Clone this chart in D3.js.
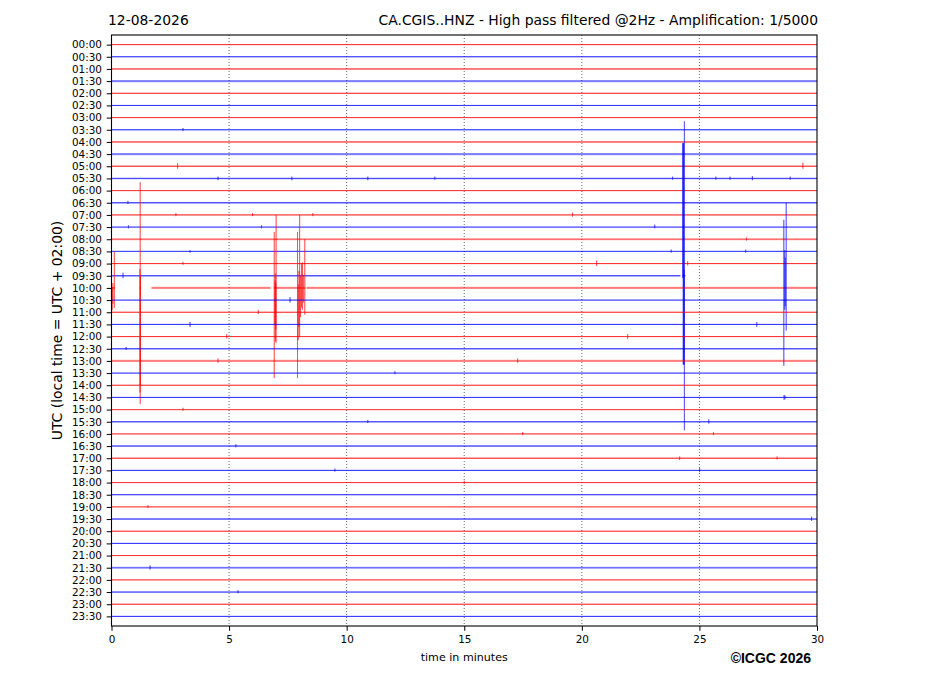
<!DOCTYPE html>
<html><head><meta charset="utf-8">
<script src="https://cdn.jsdelivr.net/npm/d3@7"></script>
<style>body{margin:0;background:#fff} svg{display:block}</style>
</head><body>
<svg id="chart" width="927" height="696"></svg>
<script>
// ---- data ----
const rowLabels = ["00:00","00:30","01:00","01:30","02:00","02:30","03:00","03:30","04:00","04:30",
  "05:00","05:30","06:00","06:30","07:00","07:30","08:00","08:30","09:00","09:30",
  "10:00","10:30","11:00","11:30","12:00","12:30","13:00","13:30","14:00","14:30",
  "15:00","15:30","16:00","16:30","17:00","17:30","18:00","18:30","19:00","19:30",
  "20:00","20:30","21:00","21:30","22:00","22:30","23:00","23:30"];
// background noise level of each row (1 quiet .. 3 noisy)
const rowNoise = [1,1,2,3,1,1,1,1,2,3, 2,2,1,2,1,2,3,2,1,2, 3,2,1,1,1,2,3,2,1,1,
  2,2,2,2,2,1,1,1,2,2, 1,1,1,3,2,1,1,1];
const rowColors = ["#ff0000", "#0000ff"];
const xTicks = [0,5,10,15,20,25,30];
const gridMinutes = [5,10,15,20,25];
// data gaps: [row, fromMinute, toMinute]
const gaps = [[19,24.19,24.28],[19,24.4,30],[20,0.15,1.2],[20,1.25,1.7],[20,6.76,6.9],[20,8.25,8.3]];
// spikes: [row, minute, amplitude up, amplitude down] in row heights
const spikes = [
  [20,0.03,0.05,1.84],[20,0.06,0.4,1.3],[20,0.12,2.98,1.64],
  [20,1.21,1.56,8.6],[20,1.22,8.69,9.55],[20,1.23,1.0,8.0],
  [20,6.92,4.6,7.4],[20,6.95,0.6,3.0],[20,6.97,1.2,4.4],[20,6.99,0.4,3.4],[20,7.00,6.0,4.5],
  [20,7.91,4.6,7.4],[20,7.94,0.3,4.3],[20,7.97,1.4,3.2],[20,8.00,6.0,4.0],[20,8.04,1.0,2.4],
  [20,8.08,2.0,1.6],[20,8.12,2.1,1.8],[20,8.16,1.0,1.2],[20,8.22,4.0,2.2],
  [19,24.29,10.9,0.2],[19,24.31,10.9,7.3],[19,24.33,10.9,7.3],[19,24.35,0.5,7.3],[19,24.36,12.7,12.7],
  [21,28.59,6.6,5.4],[21,28.63,4.1,0.8],[21,28.65,3.5,0.5],[21,28.69,8.0,2.5],
  [7,3.04,0.15,0.1],[10,2.81,0.25,0.2],[10,29.4,0.3,0.2],
  [11,4.53,0.15,0.15],[11,7.67,0.15,0.15],[11,10.9,0.15,0.15],[11,13.75,0.15,0.1],[11,23.86,0.15,0.1],
  [11,25.7,0.15,0.1],[11,26.3,0.15,0.1],[11,27.25,0.2,0.15],[11,28.86,0.15,0.1],
  [13,0.7,0.15,0.1],
  [14,2.74,0.15,0.1],[14,6.0,0.15,0.1],[14,8.56,0.15,0.1],[14,19.6,0.2,0.15],
  [15,0.72,0.15,0.1],[15,6.38,0.15,0.1],[15,23.1,0.2,0.1],
  [16,27.0,0.15,0.1],
  [17,3.34,0.1,0.1],[17,23.8,0.15,0.1],[17,26.97,0.15,0.1],
  [18,3.04,0.15,0.1],[18,20.63,0.25,0.2],[18,24.5,0.2,0.15],
  [19,0.49,0.25,0.2],[21,7.59,0.25,0.2],[22,6.24,0.2,0.15],
  [23,3.34,0.2,0.2],[23,27.44,0.2,0.2],
  [24,4.9,0.2,0.15],[24,21.95,0.2,0.2],
  [25,0.62,0.15,0.1],
  [26,4.53,0.2,0.15],[26,17.27,0.2,0.15],
  [27,12.05,0.15,0.1],
  [29,28.6,0.2,0.2],[29,28.64,0.15,0.15],
  [30,3.04,0.15,0.1],
  [31,10.9,0.15,0.1],[31,25.4,0.2,0.15],
  [32,17.49,0.15,0.1],[32,25.6,0.15,0.1],
  [33,5.29,0.15,0.1],
  [34,24.16,0.15,0.15],[34,28.3,0.15,0.1],
  [35,9.5,0.15,0.1],[35,25.01,0.2,0.15],
  [36,15.0,0.15,0.1],[38,1.55,0.15,0.1],[39,29.77,0.2,0.15],
  [43,1.64,0.2,0.15],[45,5.38,0.15,0.1]
];
const dateTitle = "12-08-2026";
const mainTitle = "CA.CGIS..HNZ - High pass filtered @2Hz - Amplification: 1/5000";
const xLabel = "time in minutes";
const yLabel = "UTC (local time = UTC + 02:00)";
const credit = "\u00A9ICGC 2026";

// ---- layout ----
const svg = d3.select("#chart");
const L = 111.5, R = 817, T = 35, B = 626;
const x = d3.scaleLinear().domain([0, 30]).range([L, R]);
const y = d3.scaleLinear().domain([-0.79, 47.79]).range([T, B]);
const font = "DejaVu Sans, sans-serif";

svg.append("defs").append("clipPath").attr("id", "clip")
  .append("rect").attr("x", L).attr("y", T).attr("width", R - L).attr("height", B - T);

// grid
svg.append("g").selectAll("line").data(gridMinutes).join("line")
  .attr("x1", d => x(d)).attr("x2", d => x(d)).attr("y1", T).attr("y2", B)
  .attr("stroke", "#444").attr("stroke-width", 0.8).attr("stroke-dasharray", "1,2");

// build per-row points
function rowPoints(r, withSpikes) {
  const ev = [];
  gaps.filter(g => g[0] === r).forEach(g => ev.push({m: g[1], type: "gap", end: g[2]}));
  if (withSpikes) spikes.filter(s => s[0] === r).forEach(s => ev.push({m: s[1], type: "spike", up: s[2], dn: s[3]}));
  ev.sort((a, b) => a.m - b.m);
  const pts = [[0, 0]];
  ev.forEach(e => {
    if (e.type === "gap") {
      pts.push([e.m, 0]); pts.push(null);
      if (e.end < 30) pts.push([e.end, 0]);
    } else {
      pts.push([e.m, 0], [e.m, e.up], [e.m, -e.dn], [e.m, 0]);
    }
  });
  if (pts[pts.length - 1] !== null) pts.push([30, 0]);
  return pts;
}

const traces = svg.append("g").attr("clip-path", "url(#clip)");
const noiseW = {1: 1.0, 2: 1.4, 3: 2.2};
const noiseO = {1: 0.68, 2: 0.5, 3: 0.34};

rowLabels.forEach((lab, r) => {
  const col = rowColors[r % 2];
  const line = d3.line().defined(d => d !== null)
    .x(d => x(d[0])).y(d => y(r - d[1]));
  traces.append("path").attr("d", line(rowPoints(r, false)))
    .attr("fill", "none").attr("stroke", col)
    .attr("stroke-width", noiseW[rowNoise[r]]).attr("stroke-opacity", noiseO[rowNoise[r]]);
  traces.append("path").attr("d", line(rowPoints(r, true)))
    .attr("fill", "none").attr("stroke", col).attr("stroke-linejoin", "round")
    .attr("stroke-width", 0.8).attr("stroke-opacity", 0.55);
});

// axes
const yAxis = d3.axisLeft(y).tickValues(d3.range(rowLabels.length))
  .tickFormat(i => rowLabels[i]).tickSize(4.8).tickPadding(4.8).tickSizeOuter(0);
const gy = svg.append("g").attr("transform", `translate(${L},0)`).call(yAxis);
gy.select(".domain").remove();
gy.selectAll("text").attr("font-family", font).attr("font-size", "10.4px").attr("fill", "#000");
gy.selectAll("line").attr("stroke", "#000").attr("stroke-width", 1);

const xAxis = d3.axisBottom(x).tickValues(xTicks).tickFormat(d3.format("d"))
  .tickSize(4.8).tickPadding(4.8).tickSizeOuter(0);
const gx = svg.append("g").attr("transform", `translate(0,${B})`).call(xAxis);
gx.select(".domain").remove();
gx.selectAll("text").attr("font-family", font).attr("font-size", "10.4px").attr("fill", "#000");
gx.selectAll("line").attr("stroke", "#000").attr("stroke-width", 1);

// frame
svg.append("rect").attr("x", L).attr("y", T).attr("width", R - L).attr("height", B - T)
  .attr("fill", "none").attr("stroke", "#000").attr("stroke-width", 1.1);

// texts
svg.append("text").attr("x", 108).attr("y", 25).attr("font-family", font)
  .attr("font-size", "13.9px").text(dateTitle);
svg.append("text").attr("x", 818).attr("y", 25).attr("text-anchor", "end").attr("font-family", font)
  .attr("font-size", "13.9px").text(mainTitle);
svg.append("text").attr("x", (L + R) / 2).attr("y", 661).attr("text-anchor", "middle")
  .attr("font-family", font).attr("font-size", "11.1px").text(xLabel);
svg.append("text").attr("transform", `translate(62,${(T + B) / 2}) rotate(-90)`)
  .attr("text-anchor", "middle").attr("font-family", font).attr("font-size", "13.9px").text(yLabel);
svg.append("text").attr("x", 811).attr("y", 663).attr("text-anchor", "end")
  .attr("font-family", "Liberation Sans, Arial, sans-serif").attr("font-weight", "bold")
  .attr("font-size", "14px").text(credit);
</script>
</body></html>
